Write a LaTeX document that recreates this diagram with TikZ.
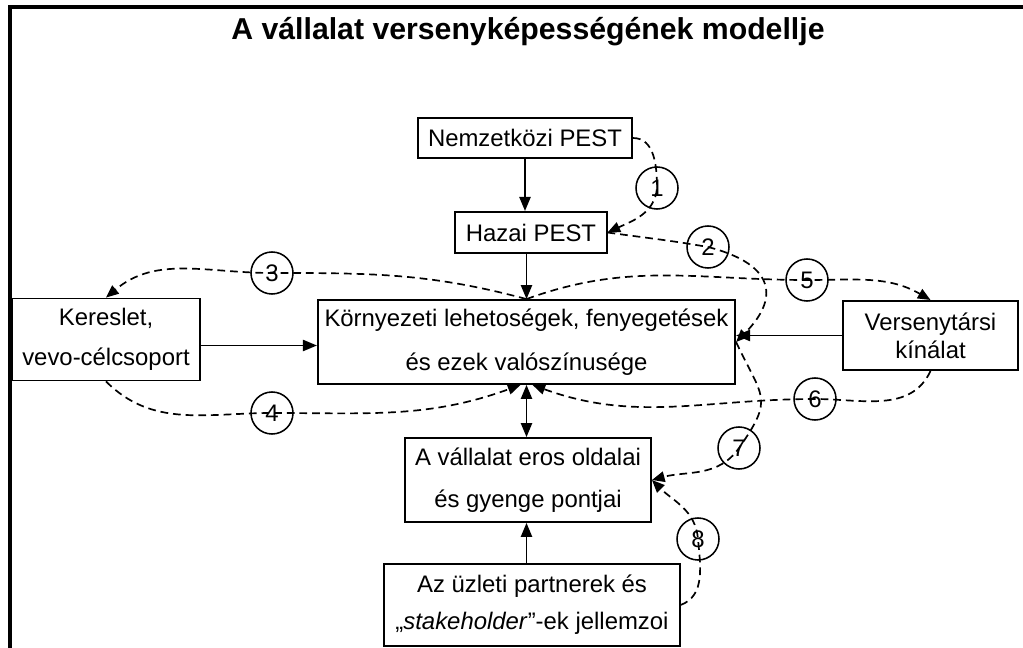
\documentclass[tikz,border=0pt]{standalone}
\usepackage{fontspec}
\setmainfont{Liberation Sans}
\usetikzlibrary{arrows.meta}

\begin{document}
\begin{tikzpicture}[
    x=0.025cm, y=0.025cm,
    box/.style={draw, line width=1.3pt, inner sep=0pt, align=center},
    num/.style={circle, draw, line width=1.1pt, minimum size=1.05cm, inner sep=0pt, font=\fontsize{17}{18}\selectfont},
    link/.style={line width=1.2pt, -{Triangle[length=10pt,width=8pt]}},
    flow/.style={line width=1.2pt, dash pattern=on 5.5pt off 3.5pt, -{Triangle[length=9pt,width=7.5pt]}}
]
    % Frame
    \useasboundingbox (0,0) rectangle (1023,-648);
    \draw[line width=2.8pt] (1023,-7) -- (10,-7) -- (10,-648);

    % Title
    \node[anchor=base, font=\bfseries\fontsize{21.5}{24}\selectfont] (title) at (528,-40) {A vállalat versenyképességének modellje};

    % Boxes
    \node[box, minimum width=5.35cm, minimum height=1cm, font=\fontsize{17}{20}\selectfont] (natpest) at (525,-138) {Nemzetközi PEST};
    \node[box, minimum width=3.78cm, minimum height=1.03cm, font=\fontsize{17}{20}\selectfont] (homepest) at (531,-232.5) {Hazai PEST};
    \node[box, minimum width=10.43cm, minimum height=2.1cm, font=\fontsize{17}{31.3}\selectfont] (env) at (526.5,-342) {Környezeti lehetoségek, fenyegetések\\és ezek valószínusége};
    \node[box, minimum width=4.7cm, minimum height=2.05cm, font=\fontsize{17}{28.5}\selectfont] (demand) at (106,-339.5) {Kereslet,\\vevo-célcsoport};
    \node[box, minimum width=4.38cm, minimum height=1.73cm, font=\fontsize{17}{20}\selectfont] (comp) at (930.5,-335.5) {Versenytársi\\kínálat};
    \node[box, minimum width=6.15cm, minimum height=2.1cm, font=\fontsize{17}{30}\selectfont] (strength) at (528,-480) {A vállalat eros oldalai\\és gyenge pontjai};
    \node[box, minimum width=7.38cm, minimum height=2.05cm, font=\fontsize{17}{26.3}\selectfont] (partners) at (532,-605) {Az üzleti partnerek és\\„\textit{stakeholder}”-ek jellemzoi};

    % Solid arrows
    \draw[link] (natpest.south) -- (natpest.south |- homepest.north);
    \draw[link] (homepest.south -| env.north) -- (env.north);
    \draw[link, {Triangle[length=10pt,width=8pt]}-{Triangle[length=10pt,width=8pt]}] (env.south) -- (env.south |- strength.north);
    \draw[link] (partners.north -| env.south) -- (strength.south -| env.south);
    \draw[link] ([yshift=-0.15cm]demand.east) -- ([yshift=-0.15cm]demand.east -| env.west);
    \draw[link] (comp.west) -- (comp.west -| env.east);

    % Numbered influences
    \node[num] (c1) at (657,-188) {1};
    \node[num] (c2) at (708,-247) {2};
    \node[num] (c3) at (272,-273) {3};
    \node[num] (c4) at (272,-413) {4};
    \node[num] (c5) at (807,-280) {5};
    \node[num] (c6) at (815,-399) {6};
    \node[num] (c7) at (739,-448) {7};
    \node[num] (c8) at (698,-539) {8};

    % Dashed links through the circles
    \draw[flow] (natpest.east) to[out=0, in=90] (c1.center) to[out=-95, in=25] (homepest.east);
    \draw[flow] (homepest.east) to[out=-8, in=170] (c2.center) .. controls (778,-265) and (778,-300) .. (env.east);
    \draw[flow] (env.north) to[out=165, in=0] (c3.center) to[out=180, in=40] (demand.north);
    \draw[flow] (demand.south) to[out=-45, in=180] (c4.center) to[out=0, in=-160] ([xshift=-0.15cm]env.south);
    \draw[flow] (env.north) to[out=20, in=180] (c5.center) to[out=0, in=150] (comp.north);
    \draw[flow] (comp.south) to[out=-115, in=0] (c6.center) to[out=180, in=-20] ([xshift=0.15cm]env.south);
    \draw[flow] (env.east) to[out=-65, in=55, looseness=1.5] (c7.center) to[out=-125, in=15] (strength.east);
    \draw[flow] (partners.east) to[out=20, in=-85] (c8.center) to[out=95, in=-45] (strength.east);
\end{tikzpicture}
\end{document}
